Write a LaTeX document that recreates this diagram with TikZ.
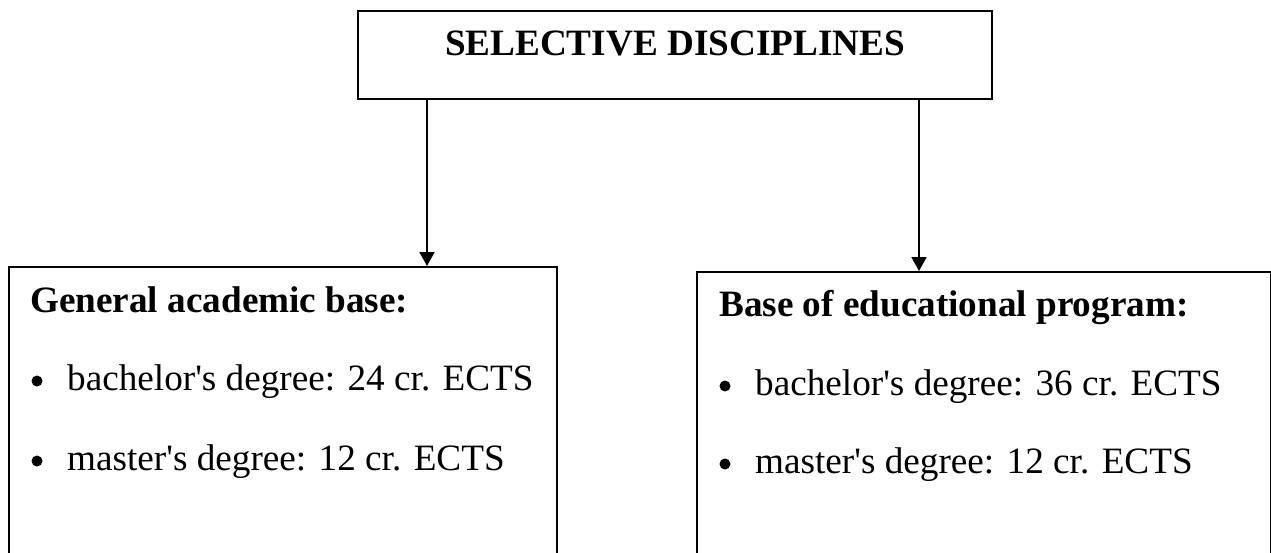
\documentclass[tikz,border=0pt]{standalone}
\usepackage{fontspec}
\setmainfont{Liberation Serif}
\usetikzlibrary{arrows.meta}
\begin{document}
\begin{tikzpicture}[x=1pt,y=-1pt,
  frame/.style={draw, rectangle, line width=2pt, inner sep=0pt},
  txt/.style={anchor=base west, inner sep=0pt, font=\fontsize{37.2}{44}\selectfont},
  head/.style={txt, font=\fontsize{37.2}{44}\selectfont\bfseries},
  link/.style={line width=1.7pt, -{Triangle[width=15pt,length=14pt]}},
  dot/.style={circle, fill, inner sep=0pt, minimum size=11pt}]
\useasboundingbox (0,0) rectangle (1271,552);
\clip (0,0) rectangle (1271,552);

% top box
\node[frame, minimum width=634pt, minimum height=88pt] (top) at (675,55) {};
\node[anchor=base, inner sep=0pt, font=\fontsize{37.2}{44}\selectfont\bfseries] (toptitle) at (675,55) {SELECTIVE DISCIPLINES};

% lower boxes (running past the lower edge)
\node[frame, minimum width=548pt, minimum height=353pt] (left) at (283,443.5) {};
\node[frame, minimum width=573.5pt, minimum height=348pt] (right) at (983.75,446) {};

% left box contents
\node[head] (lhead) at (30,312) {General academic base:};
\node[dot] (lb1) at (37,381) {};
\node[txt] (li1) at (67,390) {bachelor\textquotesingle s degree: 24 cr. ECTS};
\node[dot] (lb2) at (37,461) {};
\node[txt] (li2) at (67,470) {master\textquotesingle s degree: 12 cr. ECTS};

% right box contents
\node[head] (rhead) at (719,316) {Base of educational program:};
\node[dot] (rb1) at (725,386) {};
\node[txt] (ri1) at (755,395) {bachelor\textquotesingle s degree: 36 cr. ECTS};
\node[dot] (rb2) at (725,464) {};
\node[txt] (ri2) at (755,473) {master\textquotesingle s degree: 12 cr. ECTS};

% connectors
\coordinate (lx) at (427,0);
\coordinate (rx) at (919,0);
\draw[link] (top.south -| lx) -- (left.north -| lx);
\draw[link] (top.south -| rx) -- (right.north -| rx);
\end{tikzpicture}
\end{document}
